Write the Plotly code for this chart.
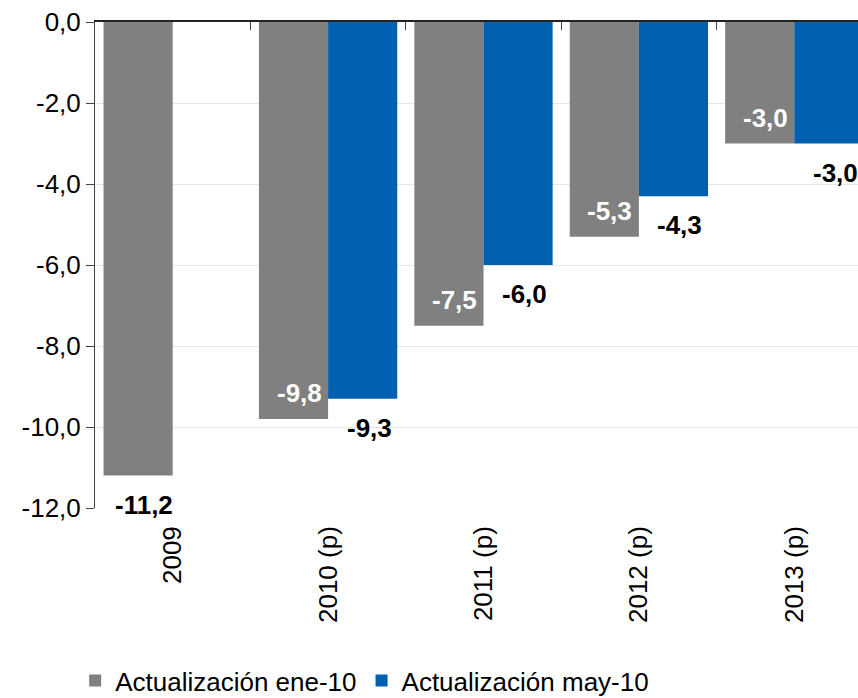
import plotly.graph_objects as go

# data
years = ['2009', '2010 (p)', '2011 (p)', '2012 (p)', '2013 (p)']
ene_10 = [-11.2, -9.8, -7.5, -5.3, -3.0]
may_10 = [None, -9.3, -6.0, -4.3, -3.0]
y_ticks = [0, -2, -4, -6, -8, -10, -12]

# gray labels sit inside the bar except for 2009
ene_inside = [False, True, True, True, True]

GRAY = 'rgb(128,128,128)'
BLUE = 'rgb(0,96,176)'
FONT = 'Liberation Sans, Arial, sans-serif'


def fmt(v):
    return f'{v:.1f}'.replace('.', ',')


def main():
    fig = go.Figure()
    fig.add_trace(go.Bar(x=years, y=ene_10, name='Actualización ene-10',
                         marker=dict(color=GRAY, line=dict(width=0))))
    fig.add_trace(go.Bar(x=years, y=may_10, name='Actualización may-10',
                         marker=dict(color=BLUE, line=dict(width=0))))
    # empty trace so the top axis (line + boundary ticks) gets drawn
    fig.add_trace(go.Scatter(x=years, y=[None] * len(years), xaxis='x2', mode='markers',
                             showlegend=False, hoverinfo='skip'))

    # value labels (x given as category index, '2009' would be read as a number)
    for i, (v, inside) in enumerate(zip(ene_10, ene_inside)):
        fig.add_annotation(x=i, y=v, text='<b>' + fmt(v) + '</b>', showarrow=False,
                           xshift=-29, yshift=26 if inside else -29,
                           font=dict(size=26, color='white' if inside else 'black'))
    for i, v in enumerate(may_10):
        if v is None:
            continue
        fig.add_annotation(x=i, y=v, text='<b>' + fmt(v) + '</b>', showarrow=False,
                           xshift=41, yshift=-29, font=dict(size=26, color='black'))

    fig.update_layout(
        width=858, height=698,
        margin=dict(l=95, r=0, t=22, b=190, autoexpand=False),
        paper_bgcolor='white', plot_bgcolor='white',
        font=dict(family=FONT, size=26, color='black'),
        barmode='group', bargap=0.11, bargroupgap=0,
        showlegend=True,
        legend=dict(orientation='h', x=-0.026, xanchor='left', y=-0.355, yanchor='middle',
                    font=dict(size=26), itemclick=False, bgcolor='rgba(0,0,0,0)'),
        xaxis=dict(type='category', categoryorder='array', categoryarray=years,
                   range=[-0.5, 4.41], showline=False, ticks='', showgrid=False,
                   tickangle=-90, ticklabelstandoff=12, tickfont=dict(size=26),
                   automargin=False),
        xaxis2=dict(type='category', categoryorder='array', categoryarray=years,
                    overlaying='x', side='top', matches='x', range=[-0.5, 4.41],
                    showline=True, linecolor='#222', linewidth=2,
                    ticks='inside', tickson='boundaries', ticklen=8, tickcolor='#444',
                    showticklabels=False, showgrid=False, automargin=False),
        yaxis=dict(range=[-12, 0], tickvals=y_ticks, ticktext=[fmt(v) for v in y_ticks],
                   showline=True, linecolor='#444', linewidth=1,
                   ticks='outside', ticklen=8, tickcolor='#444',
                   showgrid=True, gridcolor='#e6e6e6', gridwidth=1, zeroline=False,
                   ticklabelstandoff=0, tickfont=dict(size=26), automargin=False),
    )
    # the page's default body margin would shift the figure by 8px
    fig.write_html('out.html', config={'displayModeBar': False},
                   post_script="document.body.style.margin='0px';")


if __name__ == '__main__':
    main()
